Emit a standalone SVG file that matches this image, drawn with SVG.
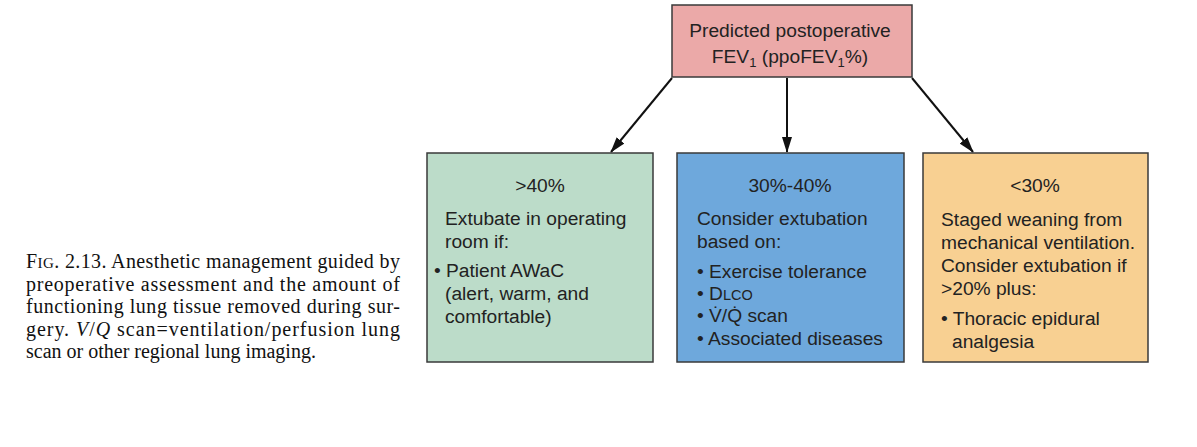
<svg xmlns="http://www.w3.org/2000/svg" width="1197" height="447" viewBox="0 0 1197 447">
<defs>
<style>
.box{stroke:#3a3a3a;stroke-width:1.5}
.t{font-family:"Liberation Sans",Arial,sans-serif;font-size:19.2px;fill:#222}
.c{text-anchor:middle}
.cap{font-family:"Liberation Serif","Times New Roman",serif;font-size:20px;fill:#111}
.conn{stroke:#111;stroke-width:2;fill:none}
</style>
<marker id="ah" viewBox="0 0 16 10" refX="15" refY="5" markerWidth="8" markerHeight="5" orient="auto" markerUnits="strokeWidth">
<path d="M0,0 L16,5 L0,10 z" fill="#111"/>
</marker>
</defs>
<rect width="1197" height="447" fill="#fff"/>
<g id="connectors">
<line class="conn" x1="672" y1="78" x2="611" y2="152" marker-end="url(#ah)"/>
<line class="conn" x1="787" y1="78" x2="787" y2="152" marker-end="url(#ah)"/>
<line class="conn" x1="912" y1="78" x2="973" y2="152" marker-end="url(#ah)"/>
</g>
<g id="top">
<rect class="box" x="672" y="5" width="240" height="72" fill="#eba9a8"/>
<text class="t c" x="790" y="37">Predicted postoperative</text>
<text class="t c" x="790" y="63">FEV<tspan font-size="13" dy="4">1</tspan><tspan dy="-4"> (ppoFEV</tspan><tspan font-size="13" dy="4">1</tspan><tspan dy="-4">%)</tspan></text>
</g>
<g id="gt40">
<rect class="box" x="427" y="153" width="226" height="209" fill="#bcdcc9"/>
<text class="t c" x="540" y="192">&gt;40%</text>
<text class="t" x="445" y="225">Extubate in operating</text>
<text class="t" x="445" y="248">room if:</text>
<text class="t" x="434" y="277">• Patient AWaC</text>
<text class="t" x="445" y="300">(alert, warm, and</text>
<text class="t" x="445" y="323">comfortable)</text>
</g>
<g id="mid">
<rect class="box" x="677" y="153" width="227" height="209" fill="#6ea8dc"/>
<text class="t c" x="790" y="192">30%-40%</text>
<text class="t" x="697" y="225">Consider extubation</text>
<text class="t" x="697" y="248">based on:</text>
<text class="t" x="697" y="278">• Exercise tolerance</text>
<text class="t" x="697" y="300">• D<tspan font-size="14.5">LCO</tspan></text>
<text class="t" x="697" y="322">• V̇/Q̇ scan</text>
<text class="t" x="697" y="345">• Associated diseases</text>
</g>
<g id="lt30">
<rect class="box" x="923" y="153" width="225" height="209" fill="#f8d092"/>
<text class="t c" x="1035" y="192">&lt;30%</text>
<text class="t" x="941" y="226">Staged weaning from</text>
<text class="t" x="941" y="249">mechanical ventilation.</text>
<text class="t" x="941" y="272">Consider extubation if</text>
<text class="t" x="941" y="295">&gt;20% plus:</text>
<text class="t" x="941" y="325">• Thoracic epidural</text>
<text class="t" x="952" y="348">analgesia</text>
</g>
<g id="caption">
<text class="cap" x="26" y="268" textLength="374" lengthAdjust="spacing">F<tspan font-size="15">IG</tspan>. 2.13. Anesthetic management guided by</text>
<text class="cap" x="26" y="290.5" textLength="374" lengthAdjust="spacing">preoperative assessment and the amount of</text>
<text class="cap" x="26" y="313" textLength="374" lengthAdjust="spacing">functioning lung tissue removed during sur-</text>
<text class="cap" x="26" y="335.5" textLength="374" lengthAdjust="spacing">gery. <tspan font-style="italic">V</tspan>/<tspan font-style="italic">Q</tspan> scan=ventilation/perfusion lung</text>
<text class="cap" x="26" y="358">scan or other regional lung imaging.</text>
</g>
</svg>
